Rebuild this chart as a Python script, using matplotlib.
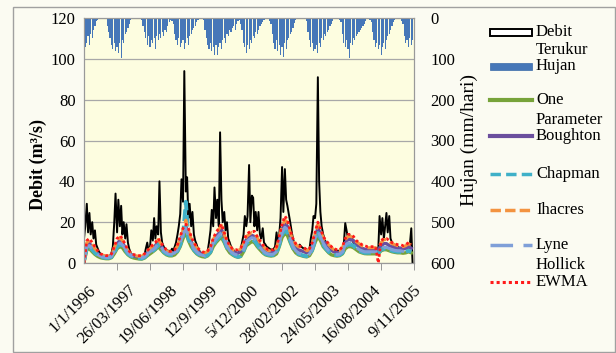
import numpy as np
import pandas as pd
import matplotlib
matplotlib.use('Agg')
import matplotlib.pyplot as plt
import matplotlib.transforms as mtransforms
from matplotlib.patches import Rectangle

plt.rcParams['font.family'] = ['Liberation Serif', 'DejaVu Serif']

# semi-monthly values (1st and 15th of each month), 1996..2005, one row per year
debit = [
    12, 18, 29, 15, 24.5, 14, 20, 12, 16, 9, 7, 5.5, 4.5, 4, 3.5, 3.2, 3, 3, 3.2, 3.5, 5, 8, 20, 34,
    15, 31, 18, 28, 14, 20, 12, 19, 10, 7, 5, 4, 3.5, 3, 2.8, 2.5, 2.5, 2.4, 2.4, 2.5, 4, 7, 10, 6,
    8, 16, 11, 22, 12, 18, 14, 40, 15, 10, 8, 7, 6.5, 6, 6, 5.5, 7, 6, 8, 10, 14, 18, 24, 41,
    30, 94, 35, 42, 22, 29, 18, 25, 14, 11, 9, 7, 6, 5, 4.5, 4, 4, 4.5, 6, 10, 16, 26, 18, 37,
    22, 31, 18, 64, 31, 20, 25, 16, 20, 12, 10, 8, 7, 6, 5.5, 5, 5, 5.5, 7, 10, 14, 23, 18, 23,
    48, 20, 33, 32, 18, 25, 16, 25, 14, 12, 17, 10, 9, 8, 7.5, 7, 6.5, 6.5, 7, 8, 15, 9, 14, 22,
    47, 25, 46, 31, 28, 24.5, 20, 16, 12, 10, 9, 8, 8, 9, 8, 7.5, 7, 7, 6.5, 6.5, 7, 12, 16, 23,
    22, 29, 91, 40, 25, 18, 14, 12, 10, 9, 8, 7.5, 7, 6.5, 6.5, 6.2, 6, 6, 6, 6, 6.5, 9, 19.5, 16,
    12, 14, 11, 12, 10, 9, 9, 8.5, 8, 8, 7.5, 7, 7, 6.5, 6.5, 6, 6, 6, 6, 6.5, 6.5, 7, 7, 23,
    14, 22, 12, 18, 24.5, 15, 23, 12, 10, 9, 8.5, 8, 8, 7.5, 7.5, 7, 7, 7, 7.5, 7, 8, 9, 17, 0]

hujan = [
    55, 70, 60, 45, 65, 40, 50, 30, 20, 8, 5, 3, 0, 2, 0, 0, 3, 20, 35, 50, 65, 75, 60, 80,
    70, 85, 60, 98, 55, 60, 40, 35, 25, 15, 5, 2, 0, 0, 0, 0, 0, 2, 4, 20, 35, 50, 65, 45,
    70, 55, 60, 50, 75, 45, 55, 40, 50, 35, 45, 30, 35, 20, 10, 5, 8, 15, 40, 55, 65, 50, 70, 60,
    55, 75, 60, 50, 65, 45, 40, 30, 25, 20, 10, 5, 3, 0, 2, 5, 30, 50, 65, 75, 60, 80, 70, 90,
    65, 90, 70, 60, 75, 55, 50, 60, 40, 45, 30, 35, 25, 20, 30, 15, 8, 5, 15, 30, 60, 70, 85, 65,
    75, 55, 60, 45, 50, 35, 40, 30, 20, 15, 10, 5, 2, 0, 3, 8, 15, 40, 60, 75, 55, 80, 65, 90,
    70, 95, 60, 75, 55, 50, 40, 35, 25, 12, 5, 3, 0, 0, 0, 2, 0, 3, 8, 35, 55, 70, 60, 80,
    75, 65, 85, 60, 70, 50, 55, 40, 45, 35, 30, 20, 15, 8, 3, 0, 0, 2, 5, 10, 40, 60, 70, 55,
    75, 98, 60, 65, 50, 55, 45, 40, 35, 30, 25, 20, 15, 8, 3, 0, 5, 10, 35, 55, 70, 60, 75, 65,
    90, 70, 60, 75, 55, 45, 40, 30, 20, 10, 5, 2, 0, 0, 3, 8, 15, 45, 60, 55, 70, 50, 65, 55]

# monthly model values, one row per year
one_param = [
    0.5, 6.5, 7, 5.5, 4.2, 3.2, 2.6, 2.3, 2.1, 2.1, 2.6, 4.5,
    7, 8, 7.5, 5.5, 4, 3, 2.5, 2.2, 2, 1.9, 2.4, 3.5,
    4.5, 5.5, 6.5, 8, 6.5, 5, 4, 3.5, 3.5, 4, 5.5, 8,
    12, 15, 11, 8, 6, 4.5, 3.6, 3.1, 2.9, 3.5, 5, 8,
    10, 11.5, 12.5, 10, 7, 5, 4, 3.2, 2.8, 3.2, 5.5, 8.5,
    9.5, 10.5, 10, 8, 6.5, 5, 4, 3.6, 3.4, 3.6, 4.5, 8,
    12.5, 14.5, 13.5, 10, 7, 5, 4, 3.6, 3.2, 3, 3.6, 6,
    10, 13, 11, 8, 6.5, 5, 4, 3.6, 3.4, 3.6, 4.5, 7,
    8, 8, 7.5, 6.5, 5.5, 5, 4.6, 4.5, 4.5, 4.5, 4.5, 4.5,
    6, 6.5, 6.5, 6, 5.5, 5.2, 5, 5, 4.8, 5, 5.5, 5]

boughton = [
    0.5, 8.5, 9.5, 8, 6, 4.6, 3.6, 3.2, 3, 3, 3.6, 6.5,
    9.5, 11, 10, 7.5, 5.5, 4.2, 3.6, 3.1, 2.9, 2.8, 3.5, 5,
    6, 7.5, 8.5, 10.5, 8.5, 6.5, 5.3, 4.8, 4.8, 5.2, 7.5, 11,
    15, 18, 14, 10.5, 8, 6.3, 5.1, 4.5, 4.2, 4.9, 6.6, 10.5,
    13, 14.5, 16.5, 13, 9, 7, 5.6, 5, 4.8, 5.5, 8, 11.5,
    12.5, 13.5, 13, 11, 8.5, 7, 5.8, 5.2, 5, 5.2, 6.5, 11,
    16.5, 19.5, 18, 13.5, 9.5, 7.5, 6.4, 6, 5.5, 5, 5.5, 8,
    13, 17, 14.5, 11, 9, 7.5, 6.2, 5.4, 5.1, 5.2, 6.5, 10,
    11.5, 11.5, 11, 9, 8, 7.2, 6.7, 6.4, 6.4, 6.4, 6.4, 6.4,
    8.5, 9.5, 9.5, 8.5, 8, 7.5, 7.2, 7.2, 6.8, 7.2, 8, 7.2]

chapman = [
    1, 7.5, 8, 6.5, 5, 3.8, 3, 2.7, 2.5, 2.5, 3, 5,
    8, 9, 8.5, 6.5, 4.5, 3.5, 3, 2.5, 2.3, 2.2, 2.8, 4,
    5, 6, 7, 9, 7.5, 5.5, 4.5, 4, 4, 4.5, 6, 9,
    13, 30, 12, 9, 6.5, 5, 4, 3.5, 3.2, 4, 5.5, 9,
    11, 12.5, 14, 11, 7.5, 5.5, 4.5, 3.5, 3, 3.5, 6, 9.5,
    10.5, 11.4, 11, 9, 7, 5.5, 4.5, 4, 3.8, 4, 5, 9,
    14, 16, 15, 11, 7.5, 5.5, 4.5, 4, 3.5, 3.3, 4, 6.5,
    11, 14.7, 12, 9, 7, 5.5, 4.5, 4, 3.8, 4, 5, 8,
    9, 9, 8.5, 7, 6, 5.5, 5, 5, 5, 5, 5, 5,
    6.5, 7, 7, 6.5, 6, 5.7, 5.5, 5.5, 5.2, 5.5, 6, 5.5]

ihacres = [
    0.5, 10, 11, 9, 7, 5.5, 4.2, 3.8, 3.4, 3.4, 4.2, 7.5,
    11, 12.5, 11, 8.5, 6, 4.6, 4, 3.5, 3.3, 3.3, 4.2, 5.5,
    7, 8.5, 9.5, 11.5, 9.5, 7.5, 6, 5.3, 5.3, 6, 8.5, 12,
    16, 21, 16, 12, 9.5, 7.5, 6, 5.2, 5, 5.7, 7.5, 11.5,
    14, 16.5, 18.5, 14, 10, 8, 6.5, 6, 6, 7, 9.5, 13,
    14, 15, 14.5, 12.5, 10, 8.5, 7, 6, 6, 6, 7.5, 12.5,
    18, 21, 20, 15, 11, 9, 8, 7.5, 7, 6, 6.5, 9.5,
    14, 19, 16, 12.5, 10, 9, 7.5, 6.5, 6, 6, 7.5, 11.5,
    13, 13, 12.5, 10.5, 9.5, 8.5, 8, 7.5, 7.5, 7.5, 7.5, 7.5,
    10, 11.5, 11.5, 10.5, 9.5, 9, 8.5, 8.5, 8, 8.5, 9.5, 8.5]

lyne_hollick = [
    1, 8, 8.5, 7, 5.4, 4.1, 3.3, 3, 2.7, 2.7, 3.3, 5.5,
    8.5, 9.8, 9, 7, 5, 3.8, 3.3, 2.8, 2.6, 2.5, 3.1, 4.4,
    5.5, 6.5, 7.5, 9.8, 8, 6, 4.9, 4.4, 4.4, 4.9, 6.5, 9.8,
    14, 17, 13, 9.8, 7.1, 5.5, 4.4, 3.8, 3.5, 4.4, 6, 9.8,
    12, 13.5, 15, 12, 8.2, 6, 4.9, 4.2, 3.9, 4.4, 6.6, 10.4,
    11.5, 12.4, 12, 9.8, 7.6, 6, 4.9, 4.4, 4.2, 4.4, 5.5, 9.8,
    15, 17.5, 16.5, 12, 8.2, 6, 4.9, 4.4, 3.8, 3.6, 4.4, 7,
    12, 16, 13, 9.8, 7.6, 6, 4.9, 4.4, 4.2, 4.4, 5.5, 8.8,
    9.8, 9.8, 9.3, 7.6, 6.6, 6, 5.5, 5.5, 5.5, 5.5, 5.5, 5.5,
    7.1, 7.6, 7.6, 7.1, 6.6, 6.2, 6, 6, 5.7, 6, 6.6, 6]

ewma = [
    0, 11, 12, 10, 8, 6, 4.5, 4, 3.6, 3.6, 4.5, 8,
    12, 13.4, 12, 9, 6.5, 5, 4.2, 3.8, 3.6, 3.6, 4.5, 6,
    7.5, 9, 10, 12, 10, 8, 6.5, 5.7, 5.7, 6.5, 9, 13,
    17, 19, 17, 13, 10, 8, 6.5, 5.5, 5.2, 6, 8, 12,
    15, 17, 19, 15, 11, 8.5, 7, 6.5, 6.5, 7.5, 10, 14,
    15, 15.5, 15.5, 13, 11, 9, 7.5, 6.5, 6.5, 6.5, 8, 13,
    19, 23, 21, 16, 12, 9.5, 8.5, 8, 7.5, 6.5, 7, 10,
    15, 20, 17, 13, 11, 9.5, 8, 7, 6.5, 6.5, 8, 12,
    14, 14, 13, 11, 10, 9, 8.5, 8, 8, 8, 8, 0,
    11, 12, 12, 11, 10, 9.5, 9, 9, 8.5, 9, 10, 9]

tick_labels = ['1/1/1996', '26/03/1997', '19/06/1998', '12/9/1999', '5/12/2000',
               '28/02/2002', '24/05/2003', '16/08/2004', '9/11/2005']

start = pd.Timestamp('1996-01-01')
xh = np.array((pd.date_range('1996-01-01', '2005-12-31', freq='SMS') - start).days)
xm = np.array((pd.date_range('1996-01-01', '2005-12-31', freq='MS') - start).days)

W, H = 616, 353
fig = plt.figure(figsize=(W/100, H/100), dpi=100)
fig.patch.set_facecolor('#fbfbf2')
ax = fig.add_axes([84/W, 1-263/H, 330/W, 245/H])
ax.set_facecolor('#fdfde0')

ax.plot(xh, debit, color='black', lw=1.4)
ax.plot(xm, one_param, color='#77a33a', lw=2.4)
ax.plot(xm, boughton, color='#6b4f9e', lw=2.4)
ax.plot(xm, chapman, color='#3fb0c8', lw=2.8, dashes=(3, 1.2))
ax.plot(xm, ihacres, color='#f39340', lw=2.2, dashes=(3, 1.5))
ax.plot(xm, lyne_hollick, color='#7f9fd8', lw=2.2, dashes=(7, 2.5))
ax.plot(xm, ewma, color='#ff1a1a', lw=2.0, dashes=(1, 1))

ax.set_xlim(0, 3652)
ax.set_ylim(0, 120)
ax.set_yticks(range(0, 121, 20))
ax.yaxis.grid(True, color='#a8a8a8', lw=0.9)
ax.set_axisbelow(True)
ax.tick_params(axis='y', length=0, labelsize=12, pad=6)
ax.set_xticks(np.arange(len(tick_labels)) * 450)
ax.set_xticklabels(tick_labels, rotation=45, ha='right', rotation_mode='anchor', fontsize=12)
ax.tick_params(axis='x', which='major', length=0, pad=14)
shift = mtransforms.ScaledTranslation(4/100, 0, fig.dpi_scale_trans)
for lbl in ax.get_xticklabels():
    lbl.set_transform(lbl.get_transform() + shift)
ax.set_xticks(np.arange(0, 3652, 365), minor=True)
ax.tick_params(axis='x', which='minor', length=5, color='#888888')
for s in ax.spines.values():
    s.set_color('#999999')
ax.set_ylabel('Debit (m³/s)', fontsize=13, fontweight='bold')
ax.yaxis.set_label_coords(-0.112, 0.40)

ax2 = ax.twinx()
ax2.bar(xh, hujan, width=13, color='#4677b8', lw=0)
ax2.set_ylim(600, 0)
ax2.set_yticks(range(0, 601, 100))
ax2.tick_params(axis='y', length=0, labelsize=12, pad=12)
for s in ax2.spines.values():
    s.set_color('#999999')
ax2.set_ylabel('Hujan (mm/hari)', fontsize=14, labelpad=4)

# legend drawn in pixel coordinates
lax = fig.add_axes([0, 0, 1, 1])
lax.set_xlim(0, W)
lax.set_ylim(H, 0)
lax.axis('off')
lax.add_patch(Rectangle((13, 7), 602, 345, fill=False, ec='#a0a0a0', lw=1))
x0, x1, tx = 490, 532, 536
fs = 12
lax.add_patch(Rectangle((x0, 28.5), x1-x0, 7, fc='white', ec='black', lw=1.4))
lax.add_patch(Rectangle((x0, 62.5), x1-x0, 7, fc='#4677b8', ec='#3a6aa8', lw=0.5))
lax.plot([x0, x1], [100, 100], color='#77a33a', lw=3)
lax.plot([x0, x1], [136, 136], color='#6b4f9e', lw=3)
lax.plot([x0, x1], [174, 174], color='#3fb0c8', lw=2.5, dashes=(3, 1.5))
lax.plot([x0, x1], [210, 210], color='#f39340', lw=2.5, dashes=(3, 1.2))
lax.plot([x0, x1], [245, 245], color='#7f9fd8', lw=2.5, dashes=(6.5, 3))
lax.plot([x0, x1], [282, 282], color='#ff1a1a', lw=2.2, dashes=(1, 1))
for label, y in [('Debit', 32), ('Terukur', 50), ('Hujan', 66), ('One', 100),
                 ('Parameter', 120), ('Boughton', 136), ('Chapman', 174),
                 ('Ihacres', 210), ('Lyne', 245), ('Hollick', 265), ('EWMA', 282)]:
    lax.text(tx, y, label, fontsize=fs, va='center', ha='left')

fig.savefig('out.png', dpi=100, facecolor=fig.get_facecolor())
